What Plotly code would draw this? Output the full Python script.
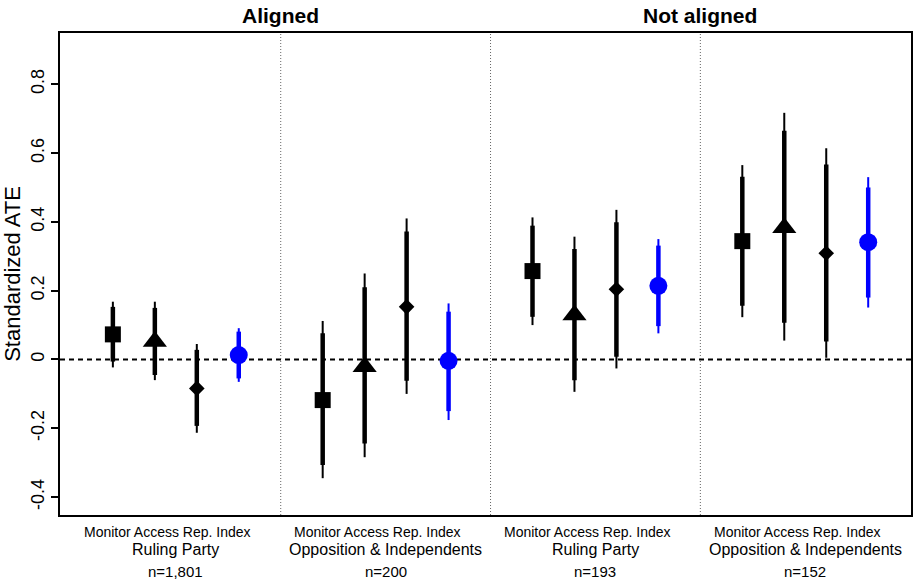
import plotly.graph_objects as go

# ---------------- data ----------------
panels = ["Aligned", "Not aligned"]
groups = ["Ruling Party", "Opposition & Independents", "Ruling Party", "Opposition & Independents"]
n_labels = ["n=1,801", "n=200", "n=193", "n=152"]
measure_label = "Monitor Access Rep. Index"
measures = ["Monitor", "Access", "Rep.", "Index"]

# point estimates per group
est_monitor = [0.073, -0.118, 0.257, 0.344]
est_access = [0.052, -0.021, 0.129, 0.383]
est_rep = [-0.084, 0.153, 0.204, 0.309]
est_index = [0.013, -0.004, 0.214, 0.341]

# 95% intervals (thin)
lo95_monitor = [-0.023, -0.345, 0.100, 0.123]
hi95_monitor = [0.168, 0.112, 0.413, 0.565]
lo95_access = [-0.060, -0.284, -0.094, 0.055]
hi95_access = [0.168, 0.250, 0.357, 0.717]
lo95_rep = [-0.213, -0.100, -0.026, 0.005]
hi95_rep = [0.045, 0.410, 0.435, 0.614]
lo95_index = [-0.065, -0.176, 0.076, 0.151]
hi95_index = [0.091, 0.163, 0.350, 0.530]

# 90% intervals (thick)
lo90_monitor = [-0.006, -0.307, 0.124, 0.156]
hi90_monitor = [0.153, 0.076, 0.389, 0.531]
lo90_access = [-0.045, -0.244, -0.060, 0.107]
hi90_access = [0.150, 0.210, 0.321, 0.665]
lo90_rep = [-0.193, -0.062, 0.008, 0.052]
hi90_rep = [0.028, 0.372, 0.399, 0.567]
lo90_index = [-0.055, -0.150, 0.097, 0.180]
hi90_index = [0.081, 0.139, 0.331, 0.500]

y_ticks = [-0.4, -0.2, 0, 0.2, 0.4, 0.6, 0.8]
y_tick_text = ["-0.4", "-0.2", "0", "0.2", "0.4", "0.6", "0.8"]

# ---------------- build ----------------
series = [
    (est_monitor, lo95_monitor, hi95_monitor, lo90_monitor, hi90_monitor, "square", 16, "black"),
    (est_access, lo95_access, hi95_access, lo90_access, hi90_access, "triangle-up", 21, "black"),
    (est_rep, lo95_rep, hi95_rep, lo90_rep, hi90_rep, "diamond", 12, "black"),
    (est_index, lo95_index, hi95_index, lo90_index, hi90_index, "circle", 18, "blue"),
]

fig = go.Figure()
FONT = "Liberation Sans, Arial, Helvetica, sans-serif"

for k, (est, lo95, hi95, lo90, hi90, sym, size, col) in enumerate(series):
    xs = [g * 5 + k + 1 for g in range(len(groups))]
    # thin 95% lines
    lx, ly = [], []
    for x, a, b in zip(xs, lo95, hi95):
        lx += [x, x, None]
        ly += [a, b, None]
    fig.add_trace(go.Scatter(x=lx, y=ly, mode="lines", line=dict(color=col, width=2),
                             showlegend=False, hoverinfo="skip"))
    # thick 90% lines
    lx, ly = [], []
    for x, a, b in zip(xs, lo90, hi90):
        lx += [x, x, None]
        ly += [a, b, None]
    fig.add_trace(go.Scatter(x=lx, y=ly, mode="lines", line=dict(color=col, width=4.5),
                             showlegend=False, hoverinfo="skip"))

for k, (est, lo95, hi95, lo90, hi90, sym, size, col) in enumerate(series):
    xs = [g * 5 + k + 1 for g in range(len(groups))]
    fig.add_trace(go.Scatter(x=xs, y=est, mode="markers", name=measures[k],
                             marker=dict(symbol=sym, size=size, color=col, line=dict(width=0)),
                             showlegend=False))

# zero reference line
fig.add_shape(type="line", xref="paper", yref="y", x0=0, x1=1, y0=0, y1=0,
              line=dict(color="black", width=2, dash="5px,4px"), layer="below")
# dividers between groups
for g in range(1, len(groups)):
    fig.add_shape(type="line", xref="x", yref="paper", x0=g * 5, x1=g * 5, y0=0, y1=1,
                  line=dict(color="#666666", width=1, dash="1px,2px"), layer="below")

# group labels below the axis
for g in range(len(groups)):
    cx = g * 5 + 2.5
    fig.add_annotation(x=cx, y=0, xref="x", yref="paper", text=measure_label, showarrow=False,
                       yanchor="middle", yshift=-17, xshift=-8,
                       font=dict(family=FONT, size=14, color="black"))
    fig.add_annotation(x=cx, y=0, xref="x", yref="paper", text=groups[g], showarrow=False,
                       yanchor="middle", yshift=-34,
                       font=dict(family=FONT, size=16, color="black"))
    fig.add_annotation(x=cx, y=0, xref="x", yref="paper", text=n_labels[g], showarrow=False,
                       yanchor="middle", yshift=-56,
                       font=dict(family=FONT, size=15, color="black"))

# panel titles
for p, name in enumerate(panels):
    fig.add_annotation(x=5 + p * 10, y=1, xref="x", yref="paper", text="<b>" + name + "</b>",
                       showarrow=False, yanchor="middle", yshift=18,
                       font=dict(family=FONT, size=21, color="black"))

fig.update_layout(
    width=915, height=581,
    margin=dict(l=60, r=2, t=33, b=66),
    paper_bgcolor="white", plot_bgcolor="white",
    font=dict(family=FONT, color="black"),
    showlegend=False,
    xaxis=dict(range=[-0.26, 20.02], showgrid=False, zeroline=False, showticklabels=False,
               ticks="", showline=True, linecolor="black", linewidth=1.5, mirror=True),
    yaxis=dict(range=[-0.452, 0.949], showgrid=False, zeroline=False,
               tickmode="array", tickvals=y_ticks, ticktext=y_tick_text,
               tickangle=-90, ticks="outside", ticklen=7, tickwidth=1.5, tickcolor="black",
               tickfont=dict(family=FONT, size=18, color="black"),
               showline=True, linecolor="black", linewidth=1.5, mirror=True,
               title=dict(text="Standardized ATE", font=dict(family=FONT, size=22, color="black"),
                          standoff=8)),
)

fig.write_html("out.html", config={"displayModeBar": False},
               post_script="document.body.style.margin='0';document.body.style.padding='0';")
